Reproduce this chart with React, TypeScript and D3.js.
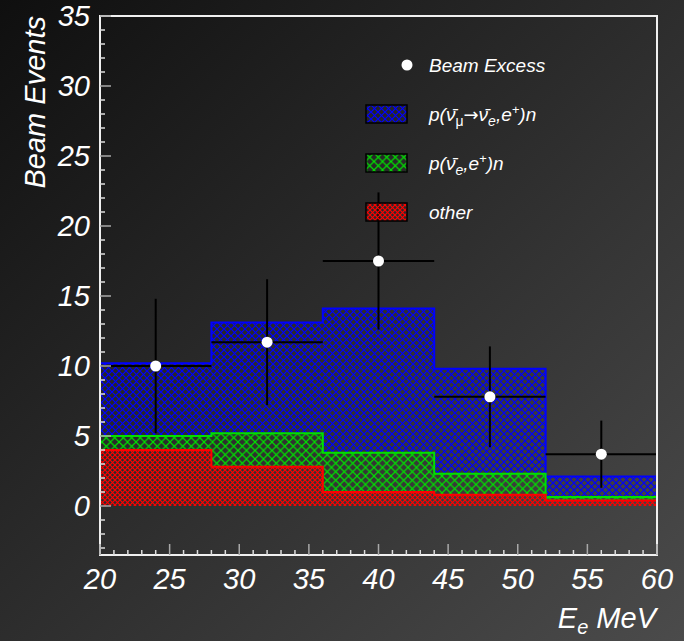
import * as React from 'react';
import * as d3 from 'd3';

// bin edges in MeV
const binEdges = [20, 28, 36, 44, 52, 60];
// stacked totals (top of each histogram)
const oscTotal = [10.2, 13.1, 14.1, 9.8, 2.1];
const nueTotal = [5.0, 5.2, 3.8, 2.3, 0.65];
const otherTotal = [4.0, 2.8, 1.0, 0.8, 0.4];

// beam excess points
const excessX = [24, 32, 40, 48, 56];
const excessY = [10.0, 11.7, 17.5, 7.8, 3.7];
const excessErr = [4.8, 4.5, 4.9, 3.6, 2.4];

const xTicks = [20, 25, 30, 35, 40, 45, 50, 55, 60];
const yTicks = [0, 5, 10, 15, 20, 25, 30, 35];

const W = 684;
const H = 641;
const left = 100, right = 657, top = 16, bottom = 555;
const FONT = '"Liberation Sans", Arial, sans-serif';

const App = () => {
  const x = d3.scaleLinear().domain([20, 60]).range([left, right]);
  const y = d3.scaleLinear().domain([-3.5, 35]).range([bottom, top]);

  const stepPath = (vals: number[]) => {
    let p = `M${x(binEdges[0])},${y(0)}`;
    vals.forEach((v, i) => {
      p += `L${x(binEdges[i])},${y(v)}L${x(binEdges[i + 1])},${y(v)}`;
    });
    p += `L${x(binEdges[binEdges.length - 1])},${y(0)}`;
    return p;
  };

  const bands = (upper: number[], lower: number[] | null, fill: string) =>
    upper.map((v, i) => {
      const lo = lower ? lower[i] : 0;
      return (
        <rect
          key={fill + i}
          x={x(binEdges[i])}
          width={x(binEdges[i + 1]) - x(binEdges[i])}
          y={y(v)}
          height={y(lo) - y(v)}
          fill={fill}
        />
      );
    });

  const minorY = d3.range(-3, 36);
  const minorX = d3.range(20, 61);

  const pattern = (id: string, color: string, p: number) => (
    <pattern id={id} patternUnits="userSpaceOnUse" width={p} height={p}>
      <path d={`M0,0L${p},${p}M0,${p}L${p},0`} stroke={color} strokeWidth={1.2} />
    </pattern>
  );

  const arrow = (
    <tspan fontFamily='"DejaVu Sans", sans-serif' fontStyle="normal" fontSize={18}>→</tspan>
  );

  return (
    <div>
      <style>{`body{margin:0}`}</style>
      <svg width={W} height={H} style={{ display: 'block' }} fontFamily={FONT}>
        <defs>
          <linearGradient id="bg" x1="0" y1="0" x2="1" y2="1">
            <stop offset="0" stopColor="#0f0f0f" />
            <stop offset="1" stopColor="#4b4b4b" />
          </linearGradient>
          {pattern('hBlue', '#0000ff', 7)}
          {pattern('hGreen', '#00e000', 8.5)}
          {pattern('hRed', '#ff0000', 5)}
        </defs>
        <rect width={W} height={H} fill="url(#bg)" />

        {/* hatched histograms */}
        {bands(oscTotal, nueTotal, 'url(#hBlue)')}
        {bands(nueTotal, otherTotal, 'url(#hGreen)')}
        {bands(otherTotal, null, 'url(#hRed)')}
        <path d={stepPath(oscTotal)} fill="none" stroke="#0000ff" strokeWidth={2} />
        <path d={stepPath(nueTotal)} fill="none" stroke="#00e000" strokeWidth={2} />
        <path d={stepPath(otherTotal)} fill="none" stroke="#ff0000" strokeWidth={2} />

        {/* error bars and points */}
        {excessX.map((xv, i) => (
          <g key={'pt' + i}>
            <line x1={x(xv - 4)} x2={x(xv + 4)} y1={y(excessY[i])} y2={y(excessY[i])} stroke="#000" strokeWidth={2} />
            <line x1={x(xv)} x2={x(xv)} y1={y(excessY[i] - excessErr[i])} y2={y(excessY[i] + excessErr[i])} stroke="#000" strokeWidth={2} />
            <circle cx={x(xv)} cy={y(excessY[i])} r={5.5} fill="#fff" />
          </g>
        ))}

        {/* frame */}
        <rect x={left} y={top} width={right - left} height={bottom - top} fill="none" stroke="#f0f0f0" strokeWidth={2} />

        {/* ticks */}
        {minorY.map(v => (
          <line key={'yt' + v} x1={left} x2={left + (v % 5 === 0 ? 11 : 5)} y1={y(v)} y2={y(v)}
            stroke={v % 5 === 0 ? '#a8a8a8' : '#dddddd'} strokeWidth={1.5} />
        ))}
        {minorX.map(v => (
          <line key={'xt' + v} x1={x(v)} x2={x(v)} y1={bottom} y2={bottom - (v % 5 === 0 ? 11 : 5)}
            stroke={v % 5 === 0 ? '#a8a8a8' : '#dddddd'} strokeWidth={1.5} />
        ))}

        {/* tick labels */}
        {yTicks.map(v => (
          <text key={'yl' + v} x={90} y={y(v)} dy="0.36em" textAnchor="end" fontSize={29}
            fontStyle="italic" fill="#fff">{v}</text>
        ))}
        {xTicks.map(v => (
          <text key={'xl' + v} x={x(v)} y={589} textAnchor="middle" fontSize={29}
            fontStyle="italic" fill="#fff">{v}</text>
        ))}

        {/* axis titles */}
        <text transform={`translate(45,16) rotate(-90)`} textAnchor="end" fontSize={29}
          fontStyle="italic" fill="#fff">Beam Events</text>
        <text x={656} y={628} textAnchor="end" fontSize={29} fontStyle="italic" fill="#fff">
          E<tspan fontSize={20} dy={6}>e</tspan><tspan dy={-6}> MeV</tspan>
        </text>

        {/* legend */}
        <g fontSize={19} fontStyle="italic" fill="#fff">
          <circle cx={407} cy={65} r={5.5} fill="#fff" />
          <text x={429} y={65} dy="0.35em">Beam Excess</text>

          <rect x={366} y={105} width={41} height={18} fill="url(#hBlue)" stroke="#000" strokeWidth={1.5} />
          <text x={429} y={114} dy="0.35em">
            p(ν̄<tspan fontSize={14} dy={5} fontStyle="normal">μ</tspan>
            <tspan dy={-5}>{arrow}</tspan><tspan>ν̄</tspan><tspan fontSize={14} dy={5}>e</tspan>
            <tspan dy={-5}>,e</tspan><tspan fontSize={13} dy={-7}>+</tspan>
            <tspan dy={7}>)n</tspan>
          </text>

          <rect x={366} y={154} width={41} height={18} fill="url(#hGreen)" stroke="#000" strokeWidth={1.5} />
          <text x={429} y={163} dy="0.35em">
            p(ν̄<tspan fontSize={14} dy={5}>e</tspan>
            <tspan dy={-5}>,e</tspan><tspan fontSize={13} dy={-7}>+</tspan>
            <tspan dy={7}>)n</tspan>
          </text>

          <rect x={366} y={203} width={41} height={18} fill="url(#hRed)" stroke="#000" strokeWidth={1.5} />
          <text x={429} y={212} dy="0.35em">other</text>
        </g>
      </svg>
    </div>
  );
};

export default App;
